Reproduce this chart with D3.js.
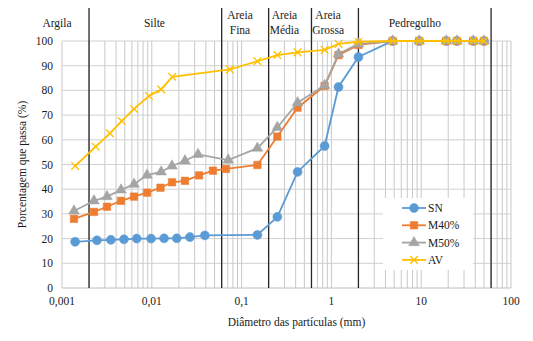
<!DOCTYPE html>
<html lang="pt">
<head>
  <meta charset="UTF-8">
  <title>Curva granulométrica</title>
  <style>
    body { margin: 0; background: #ffffff; }
    svg { display: block; }
    svg text { font-family: "Liberation Serif", "Times New Roman", "DejaVu Serif", serif; }
  </style>
</head>
<body>
  <svg id="chart" width="533" height="341"></svg>
  <script src="https://d3js.org/d3.v7.min.js"></script>
  <script>

    // diameters (mm) and % passing for each sample
    var snDiam = [0.0014, 0.00245, 0.0035, 0.0049, 0.0068, 0.0098, 0.0137, 0.019, 0.0266, 0.039, 0.15, 0.25, 0.42, 0.84, 1.2, 2.0, 4.8, 9.5, 19, 25, 38, 50];
    var snPass = [18.7, 19.3, 19.5, 19.7, 20, 20, 20.1, 20.1, 20.6, 21.3, 21.5, 28.8, 47, 57.5, 81.4, 93.5, 100, 100, 100, 100, 100, 100];

    var m40Diam = [0.00136, 0.00227, 0.00317, 0.00454, 0.00634, 0.00885, 0.0125, 0.0168, 0.0234, 0.0336, 0.048, 0.067, 0.15, 0.25, 0.42, 0.84, 1.2, 2.0, 4.8, 9.5, 19, 25, 38, 50];
    var m40Pass = [28, 30.8, 32.9, 35.3, 37, 38.6, 40.6, 42.8, 43.4, 45.6, 47.5, 48.2, 49.8, 61.3, 73, 81.8, 94.3, 98.4, 100, 100, 100, 100, 100, 100];

    var m50Diam = [0.00136, 0.00227, 0.00317, 0.00454, 0.00634, 0.00885, 0.0127, 0.0168, 0.0234, 0.0327, 0.071, 0.15, 0.25, 0.42, 0.84, 1.2, 2.0, 4.8, 9.5, 19, 25, 38, 50];
    var m50Pass = [31.2, 35.3, 37, 39.7, 42, 45.7, 47, 49.4, 51.5, 54.1, 51.8, 56.6, 65, 75, 82, 94.8, 98.8, 100, 100, 100, 100, 100, 100];

    var avDiam = [0.0014, 0.00237, 0.00342, 0.00462, 0.00634, 0.0093, 0.0127, 0.0169, 0.074, 0.15, 0.25, 0.42, 0.84, 1.2, 2.0, 4.8, 9.5, 19, 25, 38, 50];
    var avPass = [49.4, 57.2, 62.6, 67.6, 72.5, 77.7, 80.4, 85.5, 88.5, 91.8, 94.3, 95.4, 96.4, 98.8, 99.7, 100, 100, 100, 100, 100, 100];

    // soil fraction limits (mm), names and where each name sits (mm)
    var limits = [0.002, 0.06, 0.2, 0.6, 2, 60];
    var fractionNames = [["Argila"], ["Silte"], ["Areia", "Fina"], ["Areia", "Média"], ["Areia", "Grossa"], ["Pedregulho"]];
    var fractionAt = [0.00088, 0.0107, 0.096, 0.3, 0.92, 8.5];

    var xTicks = [0.001, 0.01, 0.1, 1, 10, 100];
    var xTickLabels = ["0,001", "0,01", "0,1", "1", "10", "100"];
    var yTicks = [0, 10, 20, 30, 40, 50, 60, 70, 80, 90, 100];

    var series = [
      { name: "SN", diam: snDiam, pass: snPass, color: "#5b9bd5", marker: "circle" },
      { name: "M40%", diam: m40Diam, pass: m40Pass, color: "#ed7d31", marker: "square" },
      { name: "M50%", diam: m50Diam, pass: m50Pass, color: "#a5a5a5", marker: "triangle" },
      { name: "AV", diam: avDiam, pass: avPass, color: "#ffc000", marker: "cross" }
    ];

    var plotL = 62, plotR = 511, plotT = 41, plotB = 288;

    var svg = d3.select("#chart");
    var x = d3.scaleLog().domain([0.001, 100]).range([plotL, plotR]);
    var y = d3.scaleLinear().domain([0, 100]).range([plotB, plotT]);

    // minor log grid (2..9 of each decade)
    var minor = [];
    for (var e = -3; e < 2; e++) {
      for (var k = 2; k < 10; k++) minor.push(k * Math.pow(10, e));
    }

    var grid = svg.append("g");
    grid.selectAll(".vgrid")
      .data(xTicks.concat(minor))
      .enter().append("line")
      .attr("x1", d => x(d)).attr("x2", d => x(d))
      .attr("y1", plotT).attr("y2", plotB)
      .attr("stroke", "#c9c9c9").attr("stroke-width", 1);

    grid.selectAll(".hgrid")
      .data(yTicks)
      .enter().append("line")
      .attr("x1", plotL).attr("x2", plotR)
      .attr("y1", d => y(d)).attr("y2", d => y(d))
      .attr("stroke", d => d === 0 ? "#bfbfbf" : "#d0d0d0").attr("stroke-width", 1);

    // fraction boundaries, running up into the label band
    svg.selectAll(".limit")
      .data(limits)
      .enter().append("line")
      .attr("x1", d => x(d)).attr("x2", d => x(d))
      .attr("y1", 8).attr("y2", plotB)
      .attr("stroke", "#262626").attr("stroke-width", 1.3);

    var fl = svg.selectAll(".fraction")
      .data(fractionNames)
      .enter().append("text")
      .attr("text-anchor", "middle")
      .attr("font-size", 11.5)
      .attr("fill", "#1a1a1a");
    fl.each(function(name, i) {
      var t = d3.select(this);
      var cx = x(fractionAt[i]);
      if (name.length === 1) {
        t.append("tspan").attr("x", cx).attr("y", 27).text(name[0]);
      } else {
        t.append("tspan").attr("x", cx).attr("y", 19).text(name[0]);
        t.append("tspan").attr("x", cx).attr("y", 34).text(name[1]);
      }
    });

    // axes labels
    svg.selectAll(".ytick")
      .data(yTicks)
      .enter().append("text")
      .attr("x", 53).attr("y", d => y(d) + 4)
      .attr("text-anchor", "end")
      .attr("font-size", 11.5)
      .attr("fill", "#1a1a1a")
      .text(d => d);

    svg.selectAll(".xtick")
      .data(xTicks)
      .enter().append("text")
      .attr("x", d => x(d)).attr("y", 305)
      .attr("text-anchor", "middle")
      .attr("font-size", 11.5)
      .attr("fill", "#1a1a1a")
      .text((d, i) => xTickLabels[i]);

    svg.append("text")
      .attr("x", (plotL + plotR) / 2 + 10).attr("y", 326)
      .attr("text-anchor", "middle")
      .attr("font-size", 11.5)
      .attr("fill", "#1a1a1a")
      .text("Diâmetro das partículas (mm)");

    svg.append("text")
      .attr("transform", "translate(26," + ((plotT + plotB) / 2) + ") rotate(-90)")
      .attr("text-anchor", "middle")
      .attr("font-size", 11.5)
      .attr("fill", "#1a1a1a")
      .text("Porcentagem que passa (%)");

    // marker shapes
    var symbols = {
      circle: d3.symbol().type(d3.symbolCircle).size(64),
      square: d3.symbol().type(d3.symbolSquare).size(56),
      triangle: d3.symbol().type(d3.symbolTriangle).size(50),
      cross: d3.symbol().type(d3.symbolX).size(40)
    };

    function drawMarker(sel, s) {
      sel.attr("d", symbols[s.marker]())
        .attr("fill", s.marker === "cross" ? "none" : s.color)
        .attr("stroke", s.color)
        .attr("stroke-width", s.marker === "cross" ? 1.3 : 0.5);
    }

    var line = d3.line().x(d => x(d[0])).y(d => y(d[1]));

    series.forEach(function(s) {
      var pts = s.diam.map((d, i) => [d, s.pass[i]]);
      var g = svg.append("g");
      g.append("path")
        .attr("d", line(pts))
        .attr("fill", "none")
        .attr("stroke", s.color)
        .attr("stroke-width", 1.8);
      g.selectAll("path.pt")
        .data(pts)
        .enter().append("path")
        .attr("class", "pt")
        .attr("transform", d => "translate(" + x(d[0]) + "," + y(d[1]) + ")")
        .call(drawMarker, s);
    });

    // legend
    var lg = svg.append("g").attr("transform", "translate(383,198)");
    lg.append("rect").attr("width", 90).attr("height", 72).attr("fill", "#ffffff");
    series.forEach(function(s, i) {
      var yy = 10 + i * 17.3;
      lg.append("line")
        .attr("x1", 19).attr("x2", 43).attr("y1", yy).attr("y2", yy)
        .attr("stroke", s.color).attr("stroke-width", 1.8);
      lg.append("path")
        .attr("transform", "translate(31," + yy + ")")
        .call(drawMarker, s);
      lg.append("text")
        .attr("x", 45).attr("y", yy + 4)
        .attr("font-size", 11.5)
        .attr("fill", "#1a1a1a")
        .text(s.name);
    });
  </script>
</body>
</html>
